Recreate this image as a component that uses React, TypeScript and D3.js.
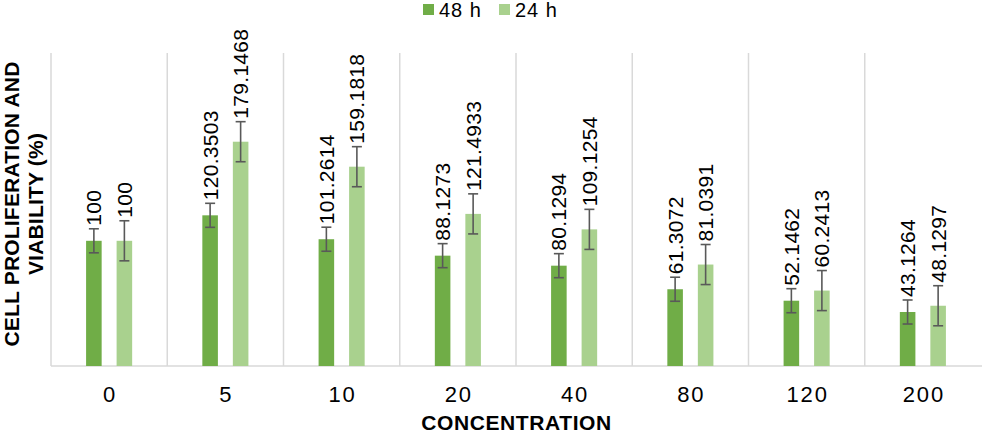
import * as d3 from "d3";
import React, { useRef, useEffect } from "react";

const categories = ["0", "5", "10", "20", "40", "80", "120", "200"];
const seriesNames = ["48 h", "24 h"];
const values48 = [100, 120.3503, 101.2614, 88.1273, 80.1294, 61.3072, 52.1462, 43.1264];
const values24 = [100, 179.1468, 159.1818, 121.4933, 109.1254, 81.0391, 60.2413, 48.1297];
const errors48 = [9.6, 9.6, 9.6, 9.6, 9.6, 9.6, 9.6, 9.6];
const errors24 = [16, 16, 16, 16, 16, 16, 16, 16];

const colors: Record<string, string> = {
  "48 h": "#70AD47",
  "24 h": "#A9D18E",
};

const FONT = "'Liberation Sans', Arial, sans-serif";

export default function App() {
  const svgRef = useRef<SVGSVGElement | null>(null);

  useEffect(() => {
    if (!svgRef.current) return;
    document.body.style.margin = "0";

    const svg = d3.select(svgRef.current);
    svg.selectAll("*").remove();

    const width = 982;
    const height = 434;
    const margin = { top: 53, right: 1, bottom: 68, left: 51 };

    const x0 = d3
      .scaleBand()
      .domain(categories)
      .range([margin.left, width - margin.right])
      .padding(0);

    const x1 = d3
      .scaleBand()
      .domain(seriesNames)
      .range([0, x0.bandwidth()])
      .paddingInner(0.49)
      .paddingOuter(1.15);

    const y = d3
      .scaleLinear()
      .domain([0, 250])
      .range([height - margin.bottom, margin.top]);

    const rows = categories.map((c, i) => ({
      cat: c,
      items: [
        { name: "48 h", value: values48[i], err: errors48[i] },
        { name: "24 h", value: values24[i], err: errors24[i] },
      ],
    }));

    // 区切り線（カテゴリ間）
    svg
      .append("g")
      .selectAll("line")
      .data(categories)
      .enter()
      .append("line")
      .attr("x1", (d) => x0(d)!)
      .attr("x2", (d) => x0(d)!)
      .attr("y1", y(250))
      .attr("y2", y(0))
      .attr("stroke", "#d9d9d9")
      .attr("stroke-width", 1.5);

    // x 軸の線
    svg
      .append("line")
      .attr("x1", margin.left)
      .attr("x2", width)
      .attr("y1", y(0))
      .attr("y2", y(0))
      .attr("stroke", "#d9d9d9")
      .attr("stroke-width", 1.5);

    const groups = svg
      .append("g")
      .selectAll("g.group")
      .data(rows)
      .enter()
      .append("g")
      .attr("class", "group")
      .attr("transform", (d) => `translate(${x0(d.cat)},0)`);

    // 棒
    groups
      .selectAll("rect")
      .data((d) => d.items)
      .enter()
      .append("rect")
      .attr("x", (d) => x1(d.name)!)
      .attr("y", (d) => y(d.value))
      .attr("width", x1.bandwidth())
      .attr("height", (d) => y(0) - y(d.value))
      .attr("fill", (d) => colors[d.name]);

    // エラーバー
    const capW = 10;
    const err = groups
      .selectAll("g.err")
      .data((d) => d.items)
      .enter()
      .append("g")
      .attr("class", "err")
      .attr("stroke", "#595959")
      .attr("stroke-width", 1.6);

    const cx = (d: { name: string }) => x1(d.name)! + x1.bandwidth() / 2;

    err
      .append("line")
      .attr("x1", cx)
      .attr("x2", cx)
      .attr("y1", (d) => y(d.value + d.err))
      .attr("y2", (d) => y(d.value - d.err));
    err
      .append("line")
      .attr("x1", (d) => cx(d) - capW / 2)
      .attr("x2", (d) => cx(d) + capW / 2)
      .attr("y1", (d) => y(d.value + d.err))
      .attr("y2", (d) => y(d.value + d.err));
    err
      .append("line")
      .attr("x1", (d) => cx(d) - capW / 2)
      .attr("x2", (d) => cx(d) + capW / 2)
      .attr("y1", (d) => y(d.value - d.err))
      .attr("y2", (d) => y(d.value - d.err));

    // データラベル（縦書き）
    groups
      .selectAll("text.label")
      .data((d) => d.items)
      .enter()
      .append("text")
      .attr("class", "label")
      .attr(
        "transform",
        (d) => `translate(${cx(d) + 7.5},${y(d.value + d.err) - 3}) rotate(-90)`,
      )
      .attr("text-anchor", "start")
      .style("font-family", FONT)
      .style("font-size", "21px")
      .style("letter-spacing", "0.3px")
      .attr("fill", "#000")
      .text((d) => String(d.value));

    // x 軸ラベル
    svg
      .append("g")
      .selectAll("text")
      .data(categories)
      .enter()
      .append("text")
      .attr("x", (d) => x0(d)! + x0.bandwidth() / 2 + 1)
      .attr("y", 402)
      .attr("text-anchor", "middle")
      .style("font-family", FONT)
      .style("font-size", "22px")
      .style("letter-spacing", "1.8px")
      .attr("fill", "#000")
      .text((d) => d);

    // 軸タイトル
    svg
      .append("text")
      .attr("x", (margin.left + width) / 2)
      .attr("y", 429.5)
      .attr("text-anchor", "middle")
      .style("font-family", FONT)
      .style("font-size", "21px")
      .style("font-weight", "bold")
      .style("letter-spacing", "0.6px")
      .text("CONCENTRATION");

    const yTitle = svg
      .append("text")
      .attr("transform", `translate(19,204) rotate(-90)`)
      .attr("text-anchor", "middle")
      .style("font-family", FONT)
      .style("font-size", "21px")
      .style("font-weight", "bold")
      .style("letter-spacing", "0.2px");
    yTitle.append("tspan").attr("x", 0).attr("y", 0).text("CELL PROLIFERATION AND");
    yTitle.append("tspan").attr("x", 0).attr("y", 24).text("VIABILITY (%)");

    // 凡例
    const legendX = [423, 499];
    seriesNames.forEach((name, i) => {
      const g = svg.append("g").attr("transform", `translate(${legendX[i]},4)`);
      g.append("rect").attr("width", 11).attr("height", 11).attr("fill", colors[name]);
      g.append("text")
        .attr("x", 16)
        .attr("y", 12.5)
        .style("font-family", FONT)
        .style("font-size", "20px")
        .style("letter-spacing", "1px")
        .text(name);
    });
  }, []);

  return <svg ref={svgRef} width={982} height={434} style={{ display: "block" }}></svg>;
}
